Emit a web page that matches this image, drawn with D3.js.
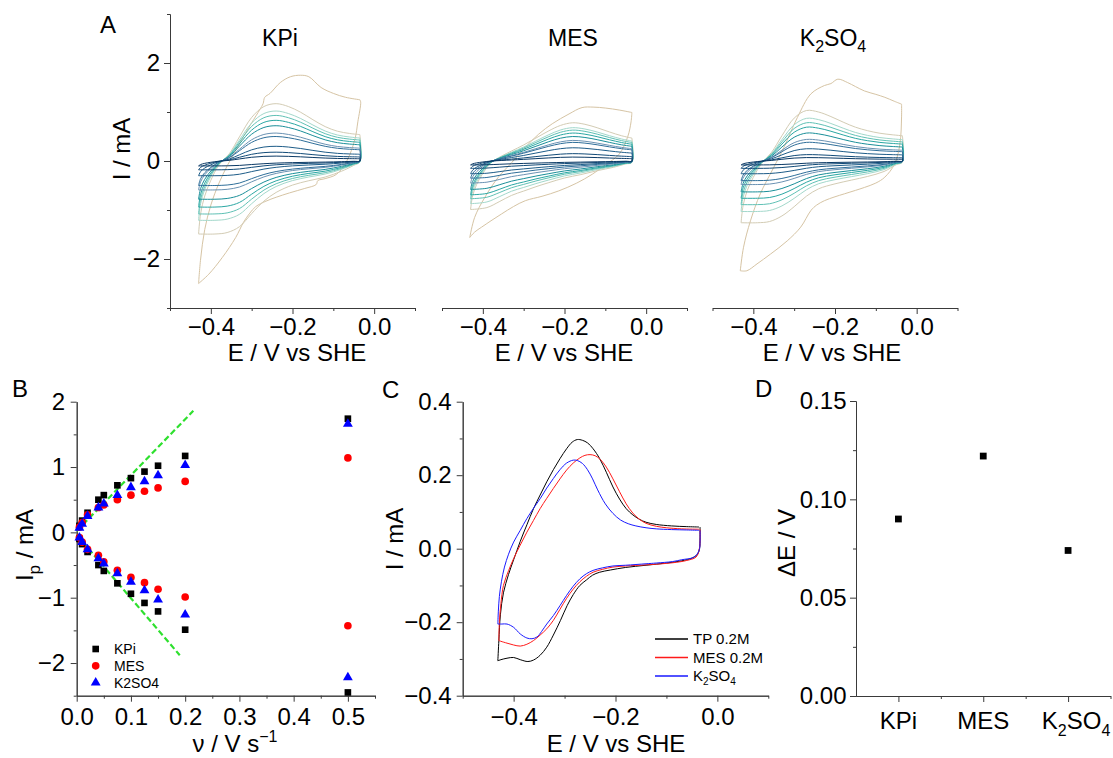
<!DOCTYPE html>
<html><head><meta charset="utf-8">
<script src="https://cdn.jsdelivr.net/npm/d3@7"></script>
<style>body{margin:0;background:#fff} svg text{font-family:Arial,"Liberation Sans",sans-serif;fill:#000}</style>
</head><body><svg id="c" width="1113" height="758"></svg>
<script>
// ---------- DATA ----------
// scan rates (V/s)
const rates = [0.005,0.01,0.02,0.04,0.05,0.075,0.1,0.125,0.15,0.2,0.5];
// Panel B: peak currents (mA)
const kpiIpa = [0.10,0.18,0.30,0.50,0.57,0.72,0.83,0.93,1.02,1.17,1.74];
const kpiIpc = [-0.10,-0.18,-0.30,-0.50,-0.59,-0.78,-0.94,-1.08,-1.21,-1.49,-2.45];
const mesIpa = [0.08,0.15,0.27,0.38,0.42,0.50,0.57,0.63,0.68,0.78,1.14];
const mesIpc = [-0.08,-0.15,-0.26,-0.35,-0.45,-0.58,-0.69,-0.77,-0.87,-0.99,-1.43];
const k2Ipa  = [0.07,0.13,0.25,0.38,0.44,0.57,0.69,0.78,0.87,1.03,1.66];
const k2Ipc  = [-0.08,-0.15,-0.26,-0.40,-0.48,-0.63,-0.76,-0.89,-1.03,-1.26,-2.22];
// linear fits (green dashed)
const fitUpperV = [0, 0.215], fitUpperI = [0.02, 1.86];
const fitLowerV = [0, 0.19],  fitLowerI = [-0.04, -1.88];

// Panel A: CV shape profiles (normalised)
const gridAnodic = [-0.43,-0.425,-0.415,-0.40,-0.38,-0.355,-0.33,-0.30,-0.27,-0.24,-0.21,-0.18,-0.15,-0.12,-0.09,-0.06,-0.035];
const leftRise   = [1,0.72,0.48,0.28,0.1,0.02,0,0,0,0,0,0,0,0,0,0,0];
const peakKPi    = [0,0,0,0.02,0.06,0.15,0.42,0.76,0.95,1.0,0.95,0.85,0.72,0.6,0.52,0.48,0.46];
const peakMES    = [0,0,0,0.03,0.08,0.15,0.26,0.42,0.6,0.78,0.93,1.0,0.96,0.87,0.76,0.66,0.6];
const peakK2     = [0,0,0,0.02,0.07,0.2,0.5,0.85,1.0,0.97,0.88,0.77,0.67,0.6,0.55,0.52,0.5];
const gridCathodic = [-0.035,-0.05,-0.08,-0.12,-0.16,-0.20,-0.24,-0.27,-0.30,-0.33,-0.36,-0.39,-0.43];
const cathKPi = [-0.01,-0.06,-0.14,-0.22,-0.27,-0.33,-0.43,-0.55,-0.72,-0.9,-0.98,-1.0,-1.0];
const cathMES = [-0.03,-0.06,-0.13,-0.2,-0.28,-0.35,-0.45,-0.53,-0.62,-0.71,-0.84,-0.96,-1.0];
const cathK2  = [-0.02,-0.06,-0.17,-0.25,-0.31,-0.37,-0.45,-0.57,-0.74,-0.89,-0.98,-1.0,-1.0];
// Panel A: 0.5 V/s curves traced directly
const kpiFastAnE = [-0.43,-0.425,-0.415,-0.40,-0.38,-0.36,-0.34,-0.32,-0.30,-0.28,-0.272,-0.268,-0.255,-0.23,-0.205,-0.18,-0.16,-0.13,-0.10,-0.07,-0.035];
const kpiFastAnI = [-2.5,-2.0,-1.4,-0.9,-0.45,-0.1,0.2,0.5,0.78,1.05,1.17,1.3,1.38,1.6,1.72,1.75,1.72,1.5,1.38,1.3,1.25];
const kpiFastCaE = [-0.035,-0.033,-0.04,-0.047,-0.067,-0.092,-0.12,-0.138,-0.142,-0.17,-0.207,-0.24,-0.265,-0.29,-0.306,-0.32,-0.339,-0.372,-0.405,-0.43];
const kpiFastCaI = [1.25,1.2,0.8,0.45,0.0,-0.27,-0.36,-0.4,-0.48,-0.56,-0.65,-0.74,-0.82,-0.93,-1.08,-1.25,-1.56,-1.97,-2.31,-2.5];
const mesFastAnE = [-0.432,-0.42,-0.395,-0.362,-0.329,-0.296,-0.263,-0.23,-0.189,-0.157,-0.13,-0.099,-0.066,-0.035];
const mesFastAnI = [-1.56,-1.15,-0.74,-0.33,-0.03,0.28,0.55,0.76,0.96,1.09,1.1,1.08,1.04,0.99];
const mesFastCaE = [-0.035,-0.037,-0.045,-0.066,-0.1,-0.132,-0.17,-0.214,-0.255,-0.296,-0.325,-0.354,-0.38,-0.403,-0.42,-0.432];
const mesFastCaI = [0.99,0.8,0.5,0.14,-0.08,-0.27,-0.45,-0.61,-0.72,-0.81,-0.93,-1.08,-1.22,-1.35,-1.45,-1.56];
const k2FastAnE = [-0.432,-0.424,-0.407,-0.383,-0.35,-0.325,-0.292,-0.259,-0.226,-0.21,-0.193,-0.169,-0.15,-0.128,-0.1,-0.078,-0.055,-0.037];
const k2FastAnI = [-2.24,-1.76,-1.22,-0.67,-0.13,0.28,0.89,1.37,1.54,1.58,1.67,1.6,1.52,1.43,1.36,1.3,1.22,1.16];
const k2FastCaE = [-0.037,-0.037,-0.041,-0.054,-0.078,-0.1,-0.128,-0.15,-0.177,-0.2,-0.226,-0.245,-0.259,-0.284,-0.317,-0.358,-0.391,-0.416,-0.432];
const k2FastCaI = [1.16,0.9,0.35,-0.06,-0.33,-0.45,-0.54,-0.6,-0.67,-0.73,-0.81,-0.9,-1.01,-1.35,-1.63,-1.9,-2.1,-2.24,-2.24];
const rateColors = ['#0b3a66','#124b78','#1d5c88','#2f6f9a','#6a92b3','#1a8f99','#2aa7a3','#5fc1b5','#a3d8cb','#d3ccb4','#d6c4a4'];

// Panel C: single CVs
const tpAnE  = [-0.431,-0.429,-0.426,-0.42,-0.41,-0.40,-0.387,-0.374,-0.361,-0.348,-0.335,-0.322,-0.309,-0.296,-0.285,-0.275,-0.265,-0.255,-0.244,-0.231,-0.218,-0.205,-0.192,-0.179,-0.166,-0.153,-0.14,-0.12,-0.09,-0.06,-0.036];
const tpAnI  = [-0.305,-0.25,-0.18,-0.12,-0.07,-0.03,0.02,0.065,0.109,0.146,0.182,0.215,0.245,0.272,0.29,0.297,0.295,0.288,0.272,0.245,0.208,0.168,0.135,0.109,0.092,0.08,0.072,0.066,0.062,0.06,0.059];
const tpCaE  = [-0.034,-0.034,-0.035,-0.039,-0.049,-0.07,-0.10,-0.14,-0.18,-0.21,-0.231,-0.245,-0.257,-0.27,-0.283,-0.295,-0.308,-0.322,-0.335,-0.348,-0.361,-0.372,-0.387,-0.40,-0.413,-0.425,-0.431];
const tpCaI  = [0.059,0.03,0.0,-0.015,-0.025,-0.033,-0.039,-0.045,-0.051,-0.058,-0.064,-0.072,-0.085,-0.1,-0.125,-0.155,-0.195,-0.235,-0.268,-0.29,-0.303,-0.307,-0.302,-0.296,-0.298,-0.302,-0.305];
const mesAnE = [-0.429,-0.428,-0.425,-0.42,-0.41,-0.40,-0.387,-0.374,-0.361,-0.348,-0.335,-0.322,-0.309,-0.296,-0.283,-0.27,-0.26,-0.25,-0.24,-0.23,-0.218,-0.205,-0.192,-0.179,-0.166,-0.153,-0.14,-0.12,-0.10,-0.07,-0.036];
const mesAnI = [-0.25,-0.2,-0.15,-0.1,-0.06,-0.027,0.01,0.045,0.077,0.109,0.137,0.164,0.19,0.214,0.233,0.247,0.254,0.256,0.253,0.243,0.222,0.19,0.155,0.122,0.097,0.08,0.069,0.061,0.057,0.054,0.053];
const mesCaE = [-0.034,-0.034,-0.036,-0.042,-0.06,-0.075,-0.10,-0.14,-0.18,-0.205,-0.225,-0.244,-0.257,-0.27,-0.283,-0.296,-0.309,-0.322,-0.335,-0.348,-0.361,-0.374,-0.387,-0.40,-0.413,-0.425,-0.429];
const mesCaI = [0.053,0.02,-0.005,-0.023,-0.032,-0.036,-0.04,-0.044,-0.047,-0.05,-0.056,-0.064,-0.075,-0.09,-0.11,-0.135,-0.165,-0.195,-0.218,-0.235,-0.25,-0.26,-0.265,-0.262,-0.257,-0.252,-0.25];
const k2AnE  = [-0.431,-0.43,-0.428,-0.424,-0.418,-0.41,-0.40,-0.387,-0.374,-0.361,-0.348,-0.335,-0.322,-0.309,-0.296,-0.283,-0.275,-0.265,-0.255,-0.245,-0.235,-0.22,-0.205,-0.19,-0.175,-0.16,-0.14,-0.12,-0.09,-0.06,-0.036];
const k2AnI  = [-0.205,-0.17,-0.13,-0.09,-0.05,-0.015,0.018,0.05,0.082,0.11,0.136,0.165,0.191,0.215,0.233,0.241,0.24,0.232,0.215,0.19,0.16,0.122,0.096,0.078,0.068,0.062,0.057,0.054,0.052,0.051,0.05];
const k2CaE  = [-0.034,-0.034,-0.036,-0.046,-0.07,-0.088,-0.12,-0.14,-0.18,-0.205,-0.225,-0.244,-0.257,-0.27,-0.283,-0.296,-0.309,-0.322,-0.335,-0.345,-0.354,-0.364,-0.374,-0.387,-0.40,-0.413,-0.423,-0.431];
const k2CaI  = [0.05,0.02,-0.005,-0.023,-0.03,-0.035,-0.039,-0.041,-0.045,-0.047,-0.052,-0.059,-0.068,-0.082,-0.102,-0.127,-0.155,-0.182,-0.205,-0.225,-0.24,-0.245,-0.243,-0.232,-0.214,-0.205,-0.205,-0.205];
const cLegend = ['TP 0.2M','MES 0.2M','K2SO4'];
const cColors = ['#000000','#ff1a1a','#1a1aff'];

// Panel D
const dCategories = ['KPi','MES','K2SO4'];
const dValues = [0.090, 0.122, 0.074];

// ---------- DRAWING ----------
const svg = d3.select('#c');
const AX = '#3a3a3a';

function styleAxis(g, fs){
  g.select('.domain').attr('stroke',AX).attr('stroke-width',1);
  g.selectAll('.tick line').attr('stroke',AX).attr('stroke-width',1);
  g.selectAll('.tick text').attr('font-size',fs).attr('font-family','Arial, "Liberation Sans", sans-serif').attr('fill','#000');
}
function addAxis(orient, scale, major, minor, fmt, tx, ty, pad){
  const mk = orient==='bottom' ? d3.axisBottom : d3.axisLeft;
  const g1 = svg.append('g').attr('transform',`translate(${tx},${ty})`)
    .call(mk(scale).tickValues(minor).tickSize(3).tickSizeOuter(0).tickFormat(''));
  styleAxis(g1, 24);
  const g2 = svg.append('g').attr('transform',`translate(${tx},${ty})`)
    .call(mk(scale).tickValues(major).tickSize(6).tickSizeOuter(0).tickPadding(pad).tickFormat(fmt));
  styleAxis(g2, 24);
  return g2;
}
function subText(sel, parts, fs, subFs, subDy){
  let prev=false;
  parts.forEach(([t,sub])=>{
    const ts = sel.append('tspan').text(t);
    if(sub){ ts.attr('font-size',subFs).attr('dy',subDy); }
    else { ts.attr('font-size',fs); if(prev) ts.attr('dy',-subDy); }
    prev = sub;
  });
  return sel;
}
const K2parts = [['K',false],['2',true],['SO',false],['4',true]];
function label(x,y,txt,fs,anchor,rot){
  const t = svg.append('text').attr('font-size',fs).attr('text-anchor',anchor||'start')
    .attr('transform',`translate(${x},${y})`+(rot?` rotate(${rot})`:''));
  if(txt!==null) t.text(txt);
  return t;
}
const lineGen = (xs, ys) => d3.line().x(d=>xs(d[0])).y(d=>ys(d[1])).curve(d3.curveCatmullRom.alpha(0.5));

// ---- Panel A ----
const yA = d3.scaleLinear().domain([-3,3]).range([308,14]);
const aPanels = [
  {x0:170, x1:415, lx:297, title:[['KPi',false]], tx:280, ipa:kpiIpa, ipc:kpiIpc, peak:peakKPi, cath:cathKPi,
   fAnE:kpiFastAnE, fAnI:kpiFastAnI, fCaE:kpiFastCaE, fCaI:kpiFastCaI},
  {x0:442, x1:687, lx:564, title:[['MES',false]], tx:573, ipa:mesIpa, ipc:mesIpc, peak:peakMES, cath:cathMES,
   fAnE:mesFastAnE, fAnI:mesFastAnI, fCaE:mesFastCaE, fCaI:mesFastCaI},
  {x0:712.5, x1:957.5, lx:832, title:K2parts, tx:833, ipa:k2Ipa, ipc:k2Ipc, peak:peakK2, cath:cathK2,
   fAnE:k2FastAnE, fAnI:k2FastAnI, fCaE:k2FastCaE, fCaI:k2FastCaI}
];
aPanels.forEach((p,pi)=>{
  const x = d3.scaleLinear().domain([-0.5,0.1]).range([p.x0,p.x1]);
  const lg = lineGen(x,yA);
  const gC = svg.append('g').attr('fill','none').attr('stroke-width',1);
  gC.append('path').attr('d', lg(p.fAnE.map((e,k)=>[e,p.fAnI[k]]))).attr('stroke',rateColors[10]);
  gC.append('path').attr('d', lg(p.fCaE.map((e,k)=>[e,p.fCaI[k]]))).attr('stroke',rateColors[10]);
  for(let i=9;i>=0;i--){
    const an = gridAnodic.map((e,k)=>[e, p.ipc[i]*leftRise[k] + p.ipa[i]*p.peak[k]]);
    const endI = an[an.length-1][1];
    const ca = [[-0.035,endI]].concat(gridCathodic.map((e,k)=>[e, Math.abs(p.ipc[i])*p.cath[k]]));
    gC.append('path').attr('d', lg(an)).attr('stroke',rateColors[i]);
    gC.append('path').attr('d', lg(ca)).attr('stroke',rateColors[i]);
  }
  addAxis('bottom', x, [-0.4,-0.2,0.0], [-0.5,-0.3,-0.1,0.1], d3.format('.1f'), 0, 308, 4);
  if(pi===0){
    addAxis('left', yA, [-2,0,2], [-3,-1,1,3], d3.format('d'), 170, 0, 4);
  }
  subText(label(p.tx,46,null,23,'middle'), p.title, 23, 16, 6);
  label(p.lx, 361, 'E / V vs SHE', 24, 'middle');
});
label(130,149,'I / mA',24,'middle',-90);
label(100,33,'A',24);

// ---- Panel B ----
const xB = d3.scaleLinear().domain([0,0.55]).range([76.7,375]);
const yB = d3.scaleLinear().domain([-2.5,2]).range([695.7,401.7]);
addAxis('bottom', xB, [0,0.1,0.2,0.3,0.4,0.5], [0.05,0.15,0.25,0.35,0.45,0.55], d3.format('.1f'), 0, 695.7, 6.5);
addAxis('left', yB, [-2,-1,0,1,2], [-2.5,-1.5,-0.5,0.5,1.5], d3.format('d'), 76.7, 0, 5.5);
const fitLine = d3.line().x(d=>xB(d[0])).y(d=>yB(d[1]));
[[fitUpperV,fitUpperI],[fitLowerV,fitLowerI]].forEach(([v,ii])=>{
  svg.append('path').attr('d',fitLine(v.map((vv,k)=>[vv,ii[k]])))
    .attr('stroke','#2ee02e').attr('stroke-width',2.2).attr('stroke-dasharray','6,3').attr('fill','none');
});
const sqr = d3.symbol().type(d3.symbolSquare).size(44);
const cir = d3.symbol().type(d3.symbolCircle).size(46);
const tri = d3.symbol().type(d3.symbolTriangle).size(42);
const bSeries = [
  {a:kpiIpa, c:kpiIpc, sym:sqr, col:'#000000', name:'KPi'},
  {a:mesIpa, c:mesIpc, sym:cir, col:'#ff0000', name:'MES'},
  {a:k2Ipa,  c:k2Ipc,  sym:tri, col:'#0000ff', name:'K2SO4'}
];
bSeries.forEach(s=>{
  const pts = rates.map((r,k)=>[r,s.a[k]]).concat(rates.map((r,k)=>[r,s.c[k]]));
  svg.append('g').selectAll('path').data(pts).join('path')
    .attr('d',s.sym).attr('fill',s.col)
    .attr('transform',d=>`translate(${xB(d[0])},${yB(d[1])})`);
});
bSeries.forEach((s,k)=>{
  const yy = 649 + k*16.8;
  svg.append('path').attr('d',s.sym).attr('fill',s.col).attr('transform',`translate(95.7,${yy})`);
  label(114, yy+5, s.name, 14);
});
const ipl = label(33,545,null,24,'middle',-90);
ipl.append('tspan').text('I');
ipl.append('tspan').text('p').attr('font-size',17).attr('dy',7);
ipl.append('tspan').text(' / mA').attr('dy',-7);
const nul = label(235,752,null,24,'middle');
nul.append('tspan').text('\u03BD / V s');
nul.append('tspan').text('\u22121').attr('font-size',16).attr('dy',-10);
label(12,397,'B',24);

// ---- Panel C ----
const xC = d3.scaleLinear().domain([-0.5,0.1]).range([462.7,768.3]);
const yC = d3.scaleLinear().domain([-0.4,0.4]).range([695.7,401.7]);
addAxis('bottom', xC, [-0.4,-0.2,0.0], [-0.5,-0.3,-0.1,0.1], d3.format('.1f'), 0, 695.7, 6.5);
addAxis('left', yC, [-0.4,-0.2,0.0,0.2,0.4], [-0.3,-0.1,0.1,0.3], d3.format('.1f'), 462.7, 0, 5);
const lgC = lineGen(xC,yC);
const cSeries = [
  {an:[tpAnE,tpAnI], ca:[tpCaE,tpCaI]},
  {an:[mesAnE,mesAnI], ca:[mesCaE,mesCaI]},
  {an:[k2AnE,k2AnI], ca:[k2CaE,k2CaI]}
];
cSeries.forEach((s,k)=>{
  svg.append('path').attr('d',lgC(s.an[0].map((e,j)=>[e,s.an[1][j]]))).attr('stroke',cColors[k]).attr('fill','none').attr('stroke-width',1);
  svg.append('path').attr('d',lgC(s.ca[0].map((e,j)=>[e,s.ca[1][j]]))).attr('stroke',cColors[k]).attr('fill','none').attr('stroke-width',1);
});
const legG = svg.append('g');
cLegend.forEach((name,k)=>{
  const yy = 639 + k*18.5;
  legG.append('rect').attr('x',655).attr('y',yy-0.75).attr('width',33).attr('height',1.5)
    .attr('fill',cColors[k]).attr('stroke','none');
  const t = label(693, yy+5, null, 15);
  if(name==='K2SO4') subText(t, K2parts, 15, 10, 4); else t.text(name);
});
label(403,539,'I / mA',24,'middle',-90);
label(616,752,'E / V vs SHE',24,'middle');
label(382,398,'C',24);

// ---- Panel D ----
const xD = d3.scaleLinear().domain([0.5,3.5]).range([856,1110.5]);
const yD = d3.scaleLinear().domain([0,0.15]).range([696,401]);
addAxis('bottom', xD, [1,2,3], [1.5,2.5,3.5], ()=>'', 0, 696, 6.5);
addAxis('left', yD, [0,0.05,0.10,0.15], [0.025,0.075,0.125], d3.format('.2f'), 856, 0, 3.5);
dCategories.forEach((c,k)=>{
  const t = label(xD(k+1) + (c==='K2SO4'?8:0), 729, null, 24, 'middle');
  if(c==='K2SO4') subText(t, K2parts, 24, 16, 7); else t.text(c);
});
svg.append('g').selectAll('path').data(dValues).join('path')
  .attr('d',d3.symbol().type(d3.symbolSquare).size(46)).attr('fill','#000')
  .attr('transform',(d,k)=>`translate(${xD(k+1)},${yD(d)})`);
label(795,543,'\u0394E / V',24,'middle',-90);
label(755,397,'D',24);
</script></body></html>
